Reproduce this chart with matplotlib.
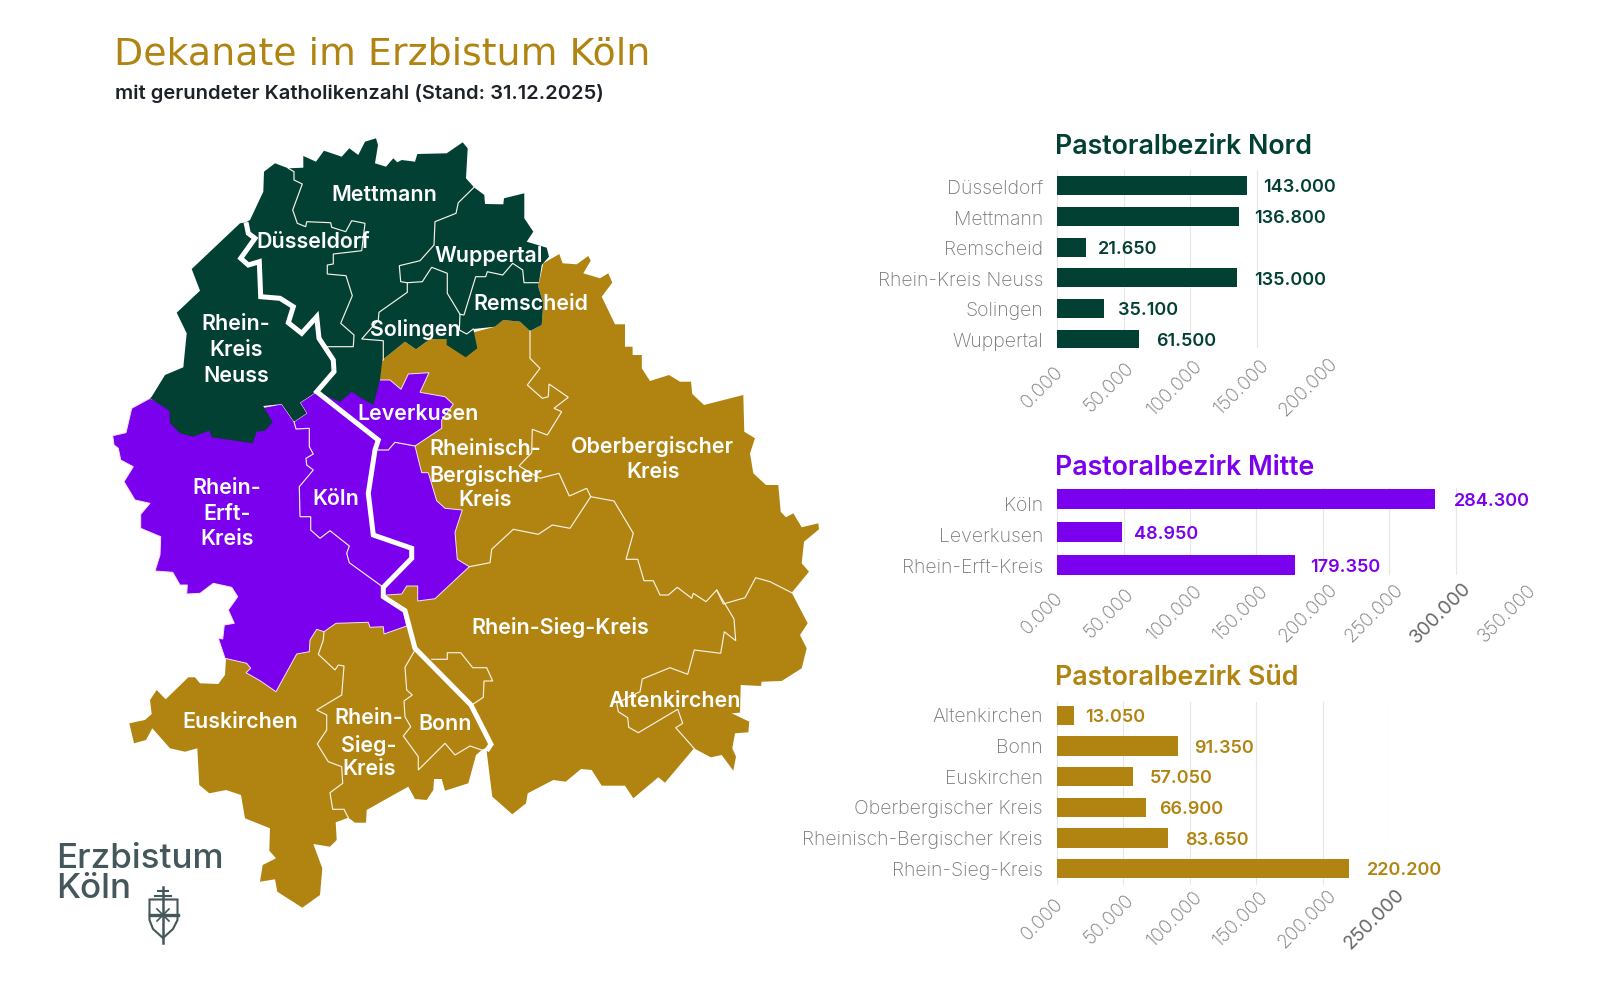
import matplotlib
matplotlib.use("Agg")
import matplotlib.pyplot as plt
from matplotlib.patches import Polygon
from matplotlib.transforms import ScaledTranslation

plt.rcParams['font.family'] = ['Inter', 'DejaVu Sans']

GREEN = '#034034'
PURPLE = '#7A00EE'
GOLD = '#B18412'
GREY = '#787878'
SLATE = '#44575A'

# ---------- bar data ----------
nord_names = ['Düsseldorf', 'Mettmann', 'Remscheid', 'Rhein-Kreis Neuss', 'Solingen', 'Wuppertal']
nord_values = [143000, 136800, 21650, 135000, 35100, 61500]
mitte_names = ['Köln', 'Leverkusen', 'Rhein-Erft-Kreis']
mitte_values = [284300, 48950, 179350]
sued_names = ['Altenkirchen', 'Bonn', 'Euskirchen', 'Oberbergischer Kreis', 'Rheinisch-Bergischer Kreis', 'Rhein-Sieg-Kreis']
sued_values = [13050, 91350, 57050, 66900, 83650, 220200]
nord_ticks = [0, 50000, 100000, 150000, 200000]
mitte_ticks = [0, 50000, 100000, 150000, 200000, 250000, 300000, 350000]
sued_ticks = [0, 50000, 100000, 150000, 200000, 250000]

# ---------- map outlines (picture coordinates of the reference) ----------
gold_outline = [
    (382.3,360),(405,341.7),(416,349.3),(430,339),(446.7,339.3),(495,326.7),(503.3,320),(520,321.7),(530,331),(541.7,325),
    (543.3,303.3),(538.3,286.7),(543.3,263.3),(559.3,254),(562.7,263.3),(576.7,264.3),(588.3,256),(590.7,260.7),(583.3,273.3),
    (600,278.3),(608.3,273.3),(612.3,282.7),(601.7,296.7),(615,324.3),(625,324.3),(625,346.7),(632.6,346.7),(632.6,355),
    (641.8,355),(641.8,368.3),(650,381),(669,375),(680,381.7),(691,381.7),(692.3,394),(704,405),(743.3,395),(744.3,431.7),
    (755,438.3),(750,453.3),(753.3,473.3),(766,485),(778.3,485),(780.7,511.7),(786,517.3),(793.3,513.3),(801.7,527.3),
    (818.3,523.3),(819,529.3),(804,541.7),(801.7,563.3),(809,571.7),(791.7,592.7),(807.7,623.3),(800,635),(806.7,648.3),
    (801.7,668.3),(781.7,681),(761.7,681.7),(761,686),(740.7,685),(740,712.7),(731.7,713.3),(749.3,721.7),(748.3,732.3),
    (735,733.3),(732.3,748.3),(736,756.7),(733.3,770.7),(721.7,755),(710.7,757.3),(694,748.3),(665,782.7),(658.3,777.3),
    (633.3,798.3),(625,785.7),(601.7,785.7),(591.7,770),(581,769),(565.7,781.7),(553.3,780),(527.7,793.3),(526,803.3),
    (512.3,814.3),(492.3,796.7),(486.7,751.7),(491.7,745),(481.7,750),(476,755),(468.3,783.3),(445,790.7),(441.7,779),
    (434,779),(433.3,790),(426.7,800),(415,799),(408.3,786.7),(393.3,795),(366.7,810),(366,822.7),(355,822.7),(348.3,817.7),
    (335.7,822.3),(336.7,840),(330,846.7),(313.3,844),(322.3,868.3),(320,895),(302.3,907.7),(277.3,891.7),(275,879.3),
    (260,881.7),(262.7,865),(276,858.3),(269.3,850.7),(270,828.3),(245,818.3),(241,795),(226,790),(209.3,793.3),(199.3,785),
    (197.3,748.3),(185,751.7),(170,748.3),(152.3,728.3),(146,740),(134,743.3),(129.3,723.3),(145,720),(151.7,714),(150,700),
    (156.7,690),(165.7,699.3),(188.3,677.3),(195,677.3),(200,683.3),(218.3,684),(225,675),(226,658.3),
]
purple_outline = [
    (150,398.3),(131.7,408.3),(126,432.7),(112.7,435.7),(114,445),(118.3,448.3),(120.7,460),(133.3,466.7),(124,481.7),(135,500),
    (150,503.3),(140.7,514.3),(140.7,528.3),(160.7,536.7),(160,555),(155,571),(172.7,572.3),(180,585),(187.3,585),(186.7,594),
    (200,593.3),(213.3,583.3),(231.7,587.3),(237.7,596.7),(228.3,610),(234.3,623.3),(224.3,625),(222.7,639),(218.3,638.3),
    (225,658.3),(246.7,663.3),(250.7,668.3),(246,672.7),(260,680.7),(276,691.7),(296.7,654),(309.3,651.7),(310,640),
    (316.7,629.3),(324,631.7),(336,623.3),(368.3,622.3),(370,627.3),(383.3,626.7),(384,634),(406.7,626),(403.3,610),
    (383.3,596.7),(386.7,595),(401.7,594),(406.7,586),(417.7,586),(417.7,601),(435,598.7),(469.3,566.7),(457.3,559.3),
    (455,532.3),(462.3,510),(445,508.3),(436.7,500.7),(428.3,472.7),(421.7,472.7),(415,446),(441.7,428.3),(441.7,420),
    (453.3,404.3),(445,396.7),(420,392.3),(429,372.7),(408.3,374),(401,389.3),(390,380),(380,380),(355,375),(320,385),
    (316.7,391.7),(300,402.7),(306.7,413.3),(294,421.7),(281.7,404),(250,410),(200,420),
]
green_outline = [
    (151.7,396.7),(165,375),(183.3,367.3),(186.7,333.3),(176.7,312.7),(200,290.7),(191.7,269),(240,223.3),(246,222.3),(250,220),
    (263.3,191.7),(264,171.7),(275,163.3),(288.3,168.3),(303.3,167.7),(303.3,156),(316,161.7),(324,150.7),(341.7,156.7),
    (349.3,148.3),(358.3,155),(365,141.7),(376,138.3),(378,145),(375,163.3),(386,166.7),(393.3,158.3),(397.3,162.3),
    (401.7,160),(415,161.7),(417.3,154),(446.7,153.3),(462.7,142.3),(467.7,148.3),(466,178.3),(474,187.3),(484.3,195),(485,204),
    (503.3,204.3),(504,198.3),(524.3,193.3),(524.3,218.3),(533.3,231.7),(526.7,241.7),(546.7,247.7),(549,256.7),(541.7,265),
    (538.3,286.7),(543.3,303.3),(541.7,325),(530,331),(520,321.7),(503.3,320),(495,326.7),(473.3,329),(477.3,348.3),
    (465.7,357.3),(446.7,345),(446.7,339.3),(430,339),(416,349.3),(405,341.7),(382.3,360),(380,380),(373.3,405),(361.7,398.3),
    (351.7,391.7),(340,402),(316.7,391.7),(300,402.7),(306.7,413.3),(294,421.7),(281.7,404),(263.3,406),(272.7,422.3),
    (265,430.7),(256.7,431.7),(252.7,443.3),(211.7,437.3),(209.3,430.7),(193.3,436.7),(180,433.3),(170,423.3),(169.3,410.7),(150,398.3),
]
rhine_line = [
    (246,222.3),(248.3,233.3),(255,238.3),(240.7,258.3),(248.3,265),(259.3,261.7),(260.7,296.7),(280,298.3),(293.3,306.7),
    (288.3,322.7),(301.7,333.3),(316.7,316.7),(319,338.3),(333.3,360),(334,371.7),(316.7,391.7),(378.3,440),(375,450),
    (368.3,493.3),(373.3,535),(411.7,548.3),(411.7,558.3),(383.3,587.3),(383.3,596.7),(405,610.7),(415,648.3),(471,705),
    (491,744.3),(486.7,750.7),
]
dekanat_borders = [
    [(288.3,168.3),(294,171.7),(294,180),(302.3,184),(292.7,210),(297.3,223.3),(305.7,226.7),(306.7,221.7),(330.7,222.7),(331.7,227.3),
     (345.7,231.7),(351.7,220.7),(365,223.3),(361.7,250.7),(333.3,254),(333.3,264),(327.3,265),(327.3,274),(346,275.7),(352.3,295.7),
     (340.7,323.3),(354,335),(353.3,346.7),(326.7,346.7)],
    [(474,187.3),(458.3,202.7),(456,213.3),(435,221.7),(434,245),(420,260.7),(399.3,265.7),(400.7,281.7),(407.3,282.7),(407.3,292.3),
     (379,312.3),(378.3,320),(361.7,339),(383.3,340.7),(383.3,360)],
    [(407.3,282.7),(422.3,281.7),(431.7,267.3),(447.3,273.3),(447.3,293.3),(460,314.3),(459.3,330),(466.7,334),(473.3,329)],
    [(460,314.3),(464,315),(475.7,276.7),(485.7,276.7),(487.3,271.7),(502.7,275),(512.7,263.3),(522.7,270),(524,282.7),(538.3,282.7)],
    [(530,331),(530,358.3),(540,368.3),(527.3,385),(542.3,398.3),(548.3,396.7),(549,384),(568.3,397.3),(554,408.3),(561.7,411.7),
     (547.3,435),(532.3,429.3),(531.7,452.7),(519,466),(540,478.3),(559,473.3),(569.3,496),(586.7,488.3),(590.7,496.7)],
    [(590.7,496.7),(570,528.3),(552.3,525),(538.3,534.3),(513.3,529.3),(491.7,549.3),(490,562.7),(469.3,566.7)],
    [(590.7,496.7),(614,501),(633.3,533.3),(626,559.3),(637.7,559.3),(644,580.7),(653.3,580.7),(660,595),(668.3,595),(677.3,587.3),
     (691.7,598.3),(693.3,593.3),(706,601.7),(716.7,590),(723.3,604),(745,597.7),(755.7,577.7),(770,581.7),(791.7,592.7)],
    [(716.7,590),(734,619),(735.7,640.7),(724.3,631.7),(720.7,653.3),(694.3,650),(687.7,674.3),(670,667.7),(642.3,679),(640,691.7),
     (616.7,703.3),(618.3,711.7),(627.7,717.7),(628.7,727.3),(638.3,732.7),(677.7,709.3),(682.7,723.3),(675.7,727.7),(694,748.3)],
    [(415,650),(405,667.3),(406.7,690),(412.3,695),(404,701),(405,716.7),(410.7,726.7),(403.3,736),(418.3,756.7),(418.3,770),
     (445,743.3),(455,755),(470,746),(481.7,750)],
    [(431.7,659.3),(447.3,659.3),(447.3,652.7),(460.7,652.7),(472.7,667.7),(486.7,667.7),(492.7,681),(484,681),(483.3,697.3),(473.3,704)],
    [(324,631.7),(323.3,640),(318.3,654.3),(335,670),(338.3,665),(344,666),(341.7,695),(316.7,710),(326.7,715),(326.7,730),(317.3,744),
     (328.3,761.7),(341.7,766.7),(342.7,783.3),(330,792.7),(332.7,809.3),(344,809.3),(348.3,817.7)],
    [(294,421.7),(296,429),(309.3,428.3),(309.3,446.7),(313.3,454),(306,458.3),(306.7,465),(313.3,470),(299.3,486.7),(300,516.7),
     (310.7,516.7),(310.7,530),(320,538.3),(330,530.7),(349.3,546),(346.7,553.3),(349.3,562.7),(383.3,587.3)],
    [(378.3,450),(388.3,450),(395,442.3),(415,446)],
]
map_labels = [
    ('Mettmann', 384.3, 195), ('Düsseldorf', 312.7, 242), ('Rhein-', 236, 324.5), ('Kreis', 236, 350), ('Neuss', 236, 375.5),
    ('Wuppertal', 488.3, 256.5), ('Remscheid', 530.7, 304.5), ('Solingen', 415, 329), ('Leverkusen', 418.3, 414),
    ('Rheinisch-', 485.3, 449), ('Bergischer', 485.3, 475), ('Kreis', 485.3, 500.5),
    ('Oberbergischer', 652.7, 446.5), ('Kreis', 653.3, 471.5), ('Köln', 335.7, 499),
    ('Rhein-', 226.7, 487.5), ('Erft-', 226.7, 514), ('Kreis', 226.7, 539),
    ('Rhein-Sieg-Kreis', 560.7, 628), ('Altenkirchen', 675, 701), ('Bonn', 445, 724), ('Euskirchen', 240.7, 722),
    ('Rhein-', 369, 718), ('Sieg-', 369, 745), ('Kreis', 369, 769),
]
shield_outline = [(149.5,899.5),(177.5,899.5),(177.5,920),(173,929),(163,938),(153,929),(149.5,920)]

W, H = 1600, 990
fig = plt.figure(figsize=(W/100, H/100), dpi=100, facecolor='white')

# ---------- map ----------
m = fig.add_axes([0, 0, 1, 1])
m.set_xlim(0, W); m.set_ylim(H, 0); m.axis('off')
m.add_patch(Polygon(gold_outline, closed=True, fc=GOLD, ec='none', zorder=1))
m.add_patch(Polygon(purple_outline, closed=True, fc=PURPLE, ec='#F3E3F3', lw=0.7, zorder=2))
m.add_patch(Polygon(green_outline, closed=True, fc=GREEN, ec='none', zorder=3))
for seg in dekanat_borders:
    xs, ys = zip(*seg)
    m.plot(xs, ys, color='#F7F1E3', lw=0.85, zorder=4, solid_joinstyle='miter')
xs, ys = zip(*rhine_line)
m.plot(xs, ys, color='white', lw=3.6, zorder=5, solid_joinstyle='miter', solid_capstyle='butt')
for txt, x, y in map_labels:
    m.text(x, y, txt, color='white', fontsize=15.4, fontweight='semibold', ha='center', va='center', zorder=6)

# ---------- titles ----------
m.text(114, 64.5, 'Dekanate im Erzbistum Köln', color=GOLD, fontsize=27.3, family=['DejaVu Sans'], ha='left', va='baseline')
m.text(115, 99, 'mit gerundeter Katholikenzahl (Stand: 31.12.2025)', color='#1C2228', fontsize=14.5, fontweight='semibold', ha='left', va='baseline')

# ---------- logo ----------
m.text(56, 868.5, 'Erzbistum', color=SLATE, fontsize=25.2, fontweight='medium', ha='left', va='baseline')
m.text(56, 898, 'Köln', color=SLATE, fontsize=25.2, fontweight='medium', ha='left', va='baseline')
m.add_patch(Polygon(shield_outline, closed=True, fc='white', ec=SLATE, lw=1.5, zorder=2))
m.plot([163, 163], [887, 943], color=SLATE, lw=1.8, zorder=3)
m.plot([158, 168], [891, 891], color=SLATE, lw=1.5, zorder=3)
m.plot([155, 171], [895.5, 895.5], color=SLATE, lw=1.5, zorder=3)
m.plot([149.5, 177.5], [915, 915], color=SLATE, lw=2.4, zorder=3)
m.plot([157, 169], [909, 921], color=SLATE, lw=1.2, zorder=3)
m.plot([157, 169], [921, 909], color=SLATE, lw=1.2, zorder=3)

# ---------- bar panels ----------
def panel(names, values, ticks, color, title, title_y, top, bottom, first, step, xmax, right,
          label_shift, gaps, pad, dark_tick=None):
    ax = fig.add_axes([1057.1/W, 1 - bottom/H, (right - 1057.1)/W, (bottom - top)/H])
    ax.set_xlim(0, xmax)
    ax.set_ylim((bottom - first)/step, (top - first)/step)
    pos = list(range(len(values)))
    ax.barh(pos, values, height=19.2/step, color=color, zorder=3)
    ax.set_yticks([p + s for p, s in zip(pos, label_shift)])
    ax.set_yticklabels(names, fontsize=14, color=GREY, fontweight='light')
    ax.set_xticks(ticks)
    ax.set_xticklabels([f'{t:,}'.replace(',', '.') if t else '0.000' for t in ticks],
                       rotation=45, ha='center', va='center', fontsize=13.8, color=GREY, fontweight='light')
    ax.tick_params(axis='x', length=0, pad=pad*0.72)
    ax.tick_params(axis='y', length=0, pad=(1057.1-1043)*0.72)
    shift = ScaledTranslation(-0.15, 0, fig.dpi_scale_trans)
    for t, lab in zip(ticks, ax.get_xticklabels()):
        lab.set_transform(lab.get_transform() + shift)
        if t == dark_tick:
            lab.set_color('#686868'); lab.set_fontweight('normal')
    ax.grid(axis='x', color='#E6E6E6', lw=0.8, zorder=0)
    ax.set_axisbelow(True)
    for s in ax.spines.values():
        s.set_visible(False)
    ax.patch.set_alpha(0)
    for p, v, g in zip(pos, values, gaps):
        ax.annotate(f'{v:,}'.replace(',', '.'), xy=(v, p), xytext=(g*0.72, -1.6), textcoords='offset points',
                    ha='left', va='center', color=color, fontsize=13, fontweight='semibold', zorder=5)
    m.text(1055, title_y, title, color=color, fontsize=19.3, fontweight='semibold', ha='left', va='baseline')

panel(nord_names, nord_values, nord_ticks, GREEN, 'Pastoralbezirk Nord', 154.3, 170, 348.3, 185.7, 30.7,
      200000, 1323, [0.03]*6, [16, 15, 12, 18, 14, 17], 39)
panel(mitte_names, mitte_values, mitte_ticks, PURPLE, 'Pastoralbezirk Mitte', 475.3, 488, 575, 499, 33,
      350000, 1522, [0.15, 0.08, 0.03], [19, 12, 15], 38, dark_tick=300000)
panel(sued_names, sued_values, sued_ticks, GOLD, 'Pastoralbezirk Süd', 685.3, 701.7, 885, 715.3, 30.67,
      250000, 1389, [0, 0, 0, 0, 0, 0], [11, 16, 17, 13, 17, 17], 34, dark_tick=250000)

fig.savefig('out.png', dpi=100, facecolor='white')
